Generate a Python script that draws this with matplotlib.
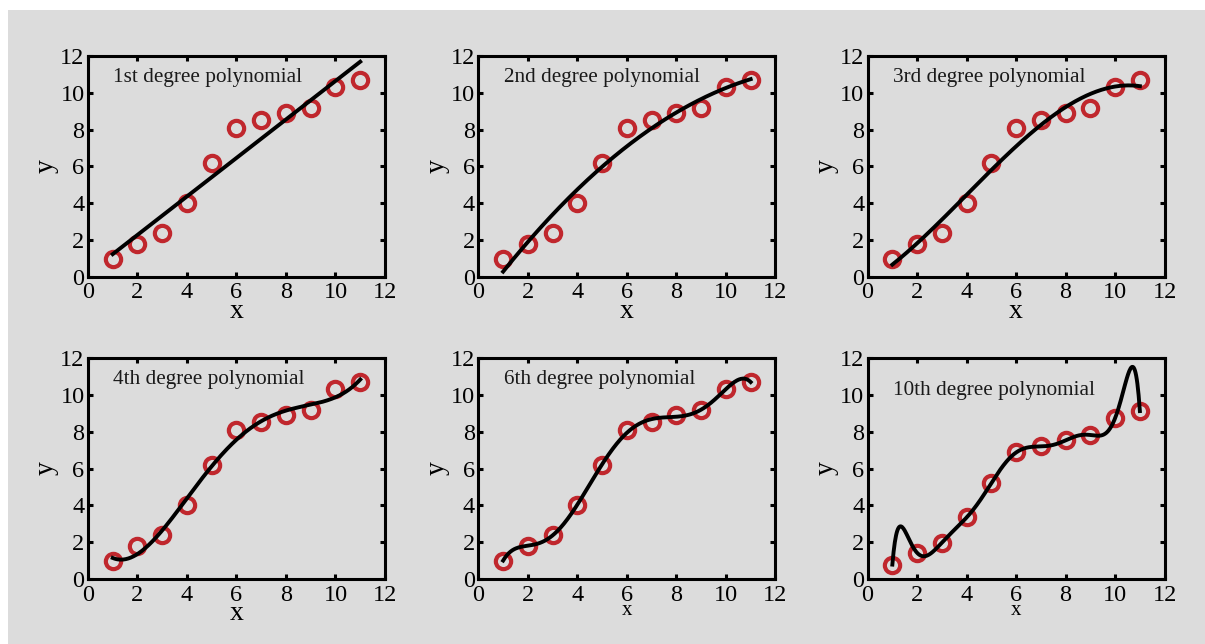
import numpy as np
import matplotlib
matplotlib.use("Agg")
import matplotlib.pyplot as plt
from matplotlib.patches import Rectangle

# sample points (same x for every panel)
x_data = [1, 2, 3, 4, 5, 6, 7, 8, 9, 10, 11]
y_data = [1.0, 1.8, 2.4, 4.0, 6.2, 8.1, 8.5, 8.9, 9.2, 10.3, 10.7]
# last panel was plotted with a slightly squashed set of y values
y_data_10 = [0.78, 1.42, 1.97, 3.34, 5.21, 6.87, 7.2, 7.53, 7.82, 8.74, 9.12]

degrees = [1, 2, 3, 4, 6, 10]
titles = ["1st degree polynomial", "2nd degree polynomial", "3rd degree polynomial",
          "4th degree polynomial", "6th degree polynomial", "10th degree polynomial"]
ticks = [0, 2, 4, 6, 8, 10, 12]

bg = "#dcdcdc"
red = "#c0272d"

plt.rcParams["font.family"] = ["Liberation Serif", "DejaVu Serif"]

fig = plt.figure(figsize=(12.05, 6.44), dpi=100, facecolor="white")
fig.patches.append(Rectangle((8 / 1205, 0), 1, 1 - 10 / 644, transform=fig.transFigure,
                             facecolor=bg, edgecolor="none", zorder=-10))

lefts = [0.073, 0.397, 0.720]
bottoms = [0.570, 0.101]
w, h = 0.2465, 0.343
text_y = [0.905, 0.905, 0.905, 0.904, 0.904, 0.853]

for i, deg in enumerate(degrees):
    row, col = divmod(i, 3)
    ax = fig.add_axes([lefts[col], bottoms[row], w, h])
    ax.set_facecolor(bg)

    ys = y_data_10 if deg == 10 else y_data
    coef = np.polyfit(x_data, ys, deg)
    xf = np.linspace(x_data[0], x_data[-1], 400)
    yf = np.polyval(coef, xf)

    ax.plot(x_data, ys, "o", ms=11, mfc="none", mec=red, mew=3, zorder=2)
    ax.plot(xf, yf, color="black", lw=2.8, zorder=3)

    ax.set_xlim(0, 12)
    ax.set_ylim(0, 12)
    ax.set_xticks(ticks)
    ax.set_yticks(ticks)
    ax.tick_params(direction="in", top=True, right=True, length=3.5, width=2.2,
                   labelsize=17.5, colors="black")
    ax.tick_params(axis="x", pad=4)
    ax.tick_params(axis="y", pad=2.5)
    for s in ax.spines.values():
        s.set_linewidth(2.2)

    # the lower-middle and lower-right panels use a smaller x label
    if i >= 4:
        ax.set_xlabel("x", fontsize=15, labelpad=-3)
    else:
        ax.set_xlabel("x", fontsize=20, labelpad=-3.5)
    ax.set_ylabel("y", fontsize=20, labelpad=1)

    ax.text(0.085, text_y[i], titles[i], transform=ax.transAxes, fontsize=15.3,
            color="#1a1a1a", va="center", ha="left")

fig.savefig("out.png", dpi=100, facecolor=fig.get_facecolor())
